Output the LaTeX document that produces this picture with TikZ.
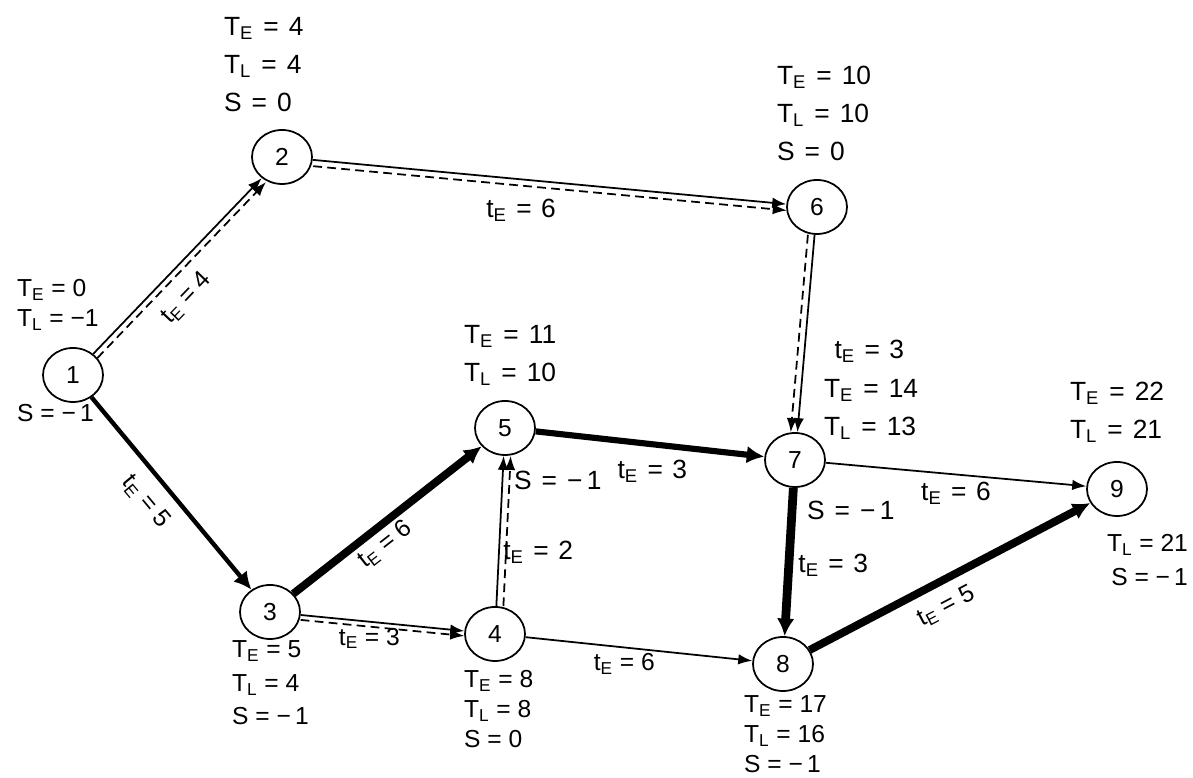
\documentclass[tikz,border=0pt]{standalone}
\usepackage{fontspec}
\setmainfont{Liberation Sans}
\usepackage{tikz}
\usetikzlibrary{shapes.geometric, arrows.meta, positioning}
\newcommand{\TE}{T\textsubscript{E}}
\newcommand{\TL}{T\textsubscript{L}}
\newcommand{\tE}{t\textsubscript{E}}
\tikzstyle{event} = [ellipse, draw=black, line width=1pt, fill=white,
    minimum width=1.2cm, minimum height=1.08cm, inner sep=0pt,
    font=\fontsize{14}{16}\selectfont]
\tikzstyle{info} = [align=left, inner sep=1pt,
    font=\fontsize{15}{21.6}\selectfont,
    execute at begin node={\spaceskip=0.38em\relax}]
\tikzstyle{infosm} = [align=left, inner sep=1pt,
    font=\fontsize{14}{17}\selectfont]
\tikzstyle{lab} = [inner sep=1pt, font=\fontsize{15}{17}\selectfont,
    execute at begin node={\spaceskip=0.36em\relax}]
\tikzstyle{labsm} = [inner sep=1pt, font=\fontsize{14}{16}\selectfont]
\tikzstyle{arrow} = [line width=1pt, -{Latex[length=8pt,width=6pt]}]
\tikzstyle{dasharrow} = [arrow, dash pattern=on 5pt off 3pt]
\tikzstyle{crit} = [line width=4.5pt, -{Latex[length=10pt,width=10pt]}]

\begin{document}
\begin{tikzpicture}
  \useasboundingbox (0,0) rectangle (23.86,15.56);

  % events
  \node (n1) [event] at (1.46,8.06)  {1};
  \node (n2) [event] at (5.64,12.42) {2};
  \node (n3) [event] at (5.40,3.32)  {3};
  \node (n4) [event] at (9.90,2.88)  {4};
  \node (n5) [event] at (10.10,7.00) {5};
  \node (n6) [event] at (16.34,11.42) {6};
  \node (n7) [event] at (15.90,6.36) {7};
  \node (n8) [event] at (15.66,2.28) {8};
  \node (n9) [event] at (22.34,5.78) {9};

  % times and slacks
  \node (i1) [infosm, anchor=west] at (0.30,9.46) {\TE{} = 0\\\TL{} = −1};
  \node (s1) [infosm, anchor=west] at (0.30,7.30) {S = −\,1};
  \node (i2) [info, anchor=west] at (4.44,14.26) {\TE{} = 4\\\TL{} = 4\\S = 0};
  \node (i6) [info, anchor=west] at (15.50,13.30) {\TE{} = 10\\\TL{} = 10\\S = 0};
  \node (i5) [info, anchor=west] at (9.24,8.46) {\TE{} = 11\\\TL{} = 10};
  \node (s5) [info, anchor=west] at (10.24,5.96) {S = −\,1};
  \node (i7) [info, anchor=west] at (16.44,7.38) {\TE{} = 14\\\TL{} = 13};
  \node (s7) [info, anchor=west] at (16.10,5.36) {S = −\,1};
  \node (i9) [info, anchor=west] at (21.36,7.32) {\TE{} = 22\\\TL{} = 21};
  \node (j9) [infosm, align=right, anchor=east, font=\fontsize{14}{19}\selectfont]
        at (23.80,4.36) {\TL{} = 21\\S = −\,1};
  \node (i3) [infosm, anchor=west, font=\fontsize{14}{19}\selectfont]
        at (4.60,1.90) {\TE{} = 5\\\TL{} = 4\\S = −\,1};
  \node (i4) [infosm, anchor=west] at (9.24,1.38) {\TE{} = 8\\\TL{} = 8\\S = 0};
  \node (i8) [infosm, anchor=west] at (14.84,0.88) {\TE{} = 17\\\TL{} = 16\\S = −\,1};

  % activities
  \draw[arrow] (n1) -- node[labsm, sloped, below=9pt, pos=0.43] {\tE{} = 4} (n2);
  \draw[arrow] (n2) -- node[lab, below=10pt, pos=0.44] {\tE{} = 6} (n6);
  \draw[arrow] (n6) -- node[lab, right=0.55cm, pos=0.59] {\tE{} = 3} (n7);
  \draw[arrow] (n3) -- node[labsm, below=2pt, pos=0.42] {\tE{} = 3} (n4);
  \draw[arrow] (n4) -- node[lab, right=1pt, pos=0.36] {\tE{} = 2} (n5);
  \draw[arrow] (n7) -- node[lab, below=3pt, pos=0.5] {\tE{} = 6} (n9);
  \draw[arrow] (n4) -- node[labsm, below=2pt, pos=0.435] {\tE{} = 6} (n8);

  \foreach \a/\b/\dx/\dy in {n1/n2/2.4/-2.3, n2/n6/0.3/-3.6, n6/n7/-3.8/0,
                             n3/n4/0/-2.8, n4/n5/4/0}
    \draw[dasharrow, transform canvas={shift={(\dx pt,\dy pt)}}] (\a) -- (\b);

  % critical path
  \draw[crit, line width=2.5pt] (n1) -- node[labsm, sloped, below=6pt, pos=0.46] {\tE{} = 5} (n3);
  \draw[crit] (n3) -- node[labsm, sloped, below=1pt, pos=0.43] {\tE{} = 6} (n5);
  \draw[crit, line width=3.5pt] (n5) -- node[lab, below=6pt, pos=0.51] {\tE{} = 3} (n7);
  \draw[crit, line width=5pt] (n7) -- node[lab, right=2pt, pos=0.52] {\tE{} = 3} (n8);
  \draw[crit] (n8) -- node[labsm, sloped, below=5pt, pos=0.445] {\tE{} = 5} (n9);

\end{tikzpicture}
\end{document}
